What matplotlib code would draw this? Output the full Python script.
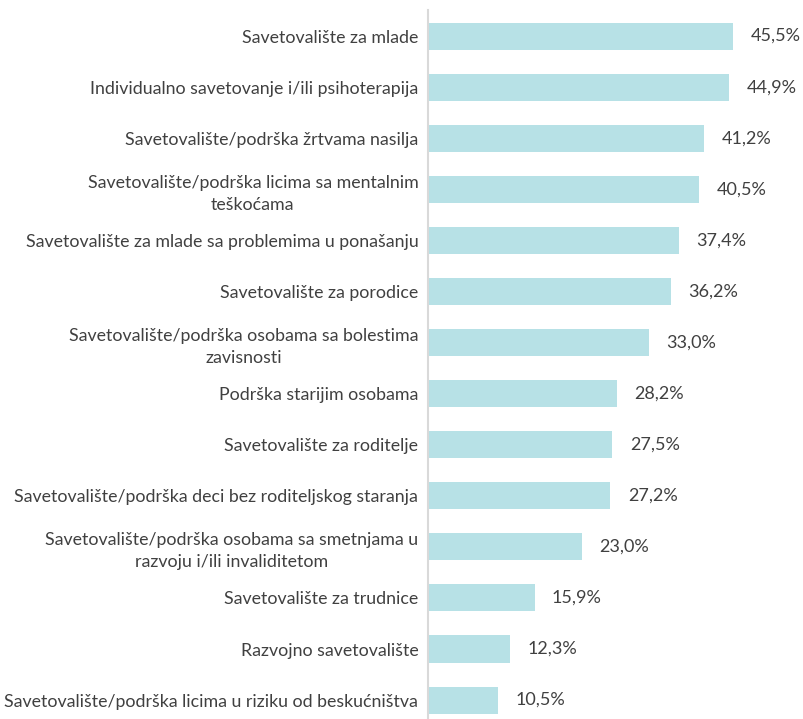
import matplotlib.pyplot as plt

plt.rcParams['font.family'] = ['Lato', 'DejaVu Sans']

# categories and shares (%), top to bottom
categories = [
    'Savetovalište za mlade',
    'Individualno savetovanje i/ili psihoterapija',
    'Savetovalište/podrška žrtvama nasilja',
    'Savetovalište/podrška licima sa mentalnim\nteškoćama',
    'Savetovalište za mlade sa problemima u ponašanju',
    'Savetovalište za porodice',
    'Savetovalište/podrška osobama sa bolestima\nzavisnosti',
    'Podrška starijim osobama',
    'Savetovalište za roditelje',
    'Savetovalište/podrška deci bez roditeljskog staranja',
    'Savetovalište/podrška osobama sa smetnjama u\nrazvoju i/ili invaliditetom',
    'Savetovalište za trudnice',
    'Razvojno savetovalište',
    'Savetovalište/podrška licima u riziku od beskućništva',
]
values = [45.5, 44.9, 41.2, 40.5, 37.4, 36.2, 33.0, 28.2, 27.5, 27.2, 23.0, 15.9, 12.3, 10.5]
value_labels = [f'{v:.1f}%'.replace('.', ',') for v in values]

fig = plt.figure(figsize=(8.04, 7.19), dpi=100)
ax = fig.add_axes([428 / 804, 0, 376 / 804, 709 / 719])

pos = list(range(len(categories)))
ax.barh(pos, values, height=0.53, color='#B7E1E6')

for p, v, lab in zip(pos, values, value_labels):
    ax.text(v + 2.6, p, lab, va='center', ha='left', fontsize=13, color='#404040')

ax.set_yticks(pos)
ax.set_yticklabels(categories, fontsize=12.8, color='#404040')
ax.tick_params(axis='y', length=0, pad=7)

ax.set_xlim(0, 56.1)
ax.set_ylim(13.37, -0.51)
ax.set_xticks([])
for s in ['top', 'right', 'bottom']:
    ax.spines[s].set_visible(False)
ax.spines['left'].set_color('#D9D9D9')
ax.spines['left'].set_linewidth(1.5)

# two-line labels: lines centred on each other, a bit more spacing
fig.canvas.draw()
for t in ax.get_yticklabels():
    t.set_multialignment('center')
    t.set_linespacing(1.45)

plt.savefig('out.png', dpi=100)
